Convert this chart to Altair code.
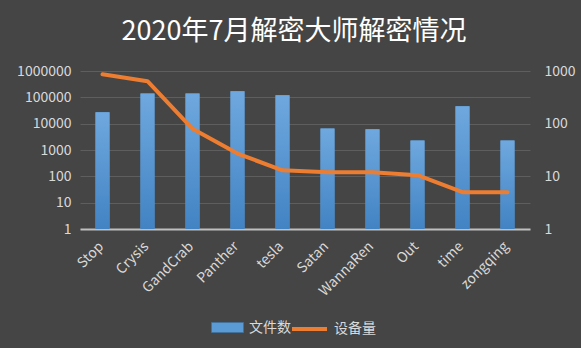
import altair as alt
import pandas as pd

names = ["Stop", "Crysis", "GandCrab", "Panther", "tesla", "Satan", "WannaRen", "Out", "time", "zongqing"]
files = [27000, 140000, 140000, 170000, 120000, 6600, 6100, 2300, 46000, 2300]
devices = [870, 640, 80, 27, 13, 12, 12, 10.5, 5, 5]
left_ticks = [1, 10, 100, 1000, 10000, 100000, 1000000]
right_ticks = [1, 10, 100, 1000]

df = pd.DataFrame({"name": names, "files": files, "devices": devices,
                   "k1": ["文件数"] * len(names), "k2": ["设备量"] * len(names)})

FONT = "Noto Sans CJK SC"
LABEL = "#d9d9d9"

x = alt.X("name:N", sort=names, title=None,
          scale=alt.Scale(paddingInner=0, paddingOuter=0),
          axis=alt.Axis(labelAngle=-45, labelFontSize=14, labelColor=LABEL, labelFont=FONT,
                        ticks=False, domainColor="#bfbfbf", domainWidth=2, labelPadding=10,
                        labelOffset=-6))

bar_solid = alt.Chart(df).mark_bar(size=14).encode(
    x=x,
    y=alt.Y("files:Q", scale=alt.Scale(type="log", domain=[1, 1000000], nice=False), title=None,
            axis=alt.Axis(values=left_ticks, format="d", orient="left", labelFontSize=14,
                          labelColor=LABEL, labelFont=FONT, domain=False, ticks=False,
                          gridColor="#5e5e5e", gridWidth=1, labelPadding=9)),
    y2=alt.datum(1),
    fill=alt.Fill("k1:N", scale=alt.Scale(domain=["文件数"], range=["#5B9BD5"]),
                  legend=alt.Legend(title=None, orient="none", legendX=131, legendY=240,
                                    direction="horizontal",
                                    symbolType="M-1,-0.3125H1V0.3125H-1Z", symbolSize=1024,
                                    symbolStrokeColor="#41719c", symbolStrokeWidth=0.8,
                                    labelFontSize=14, labelColor=LABEL, labelFont=FONT,
                                    labelOffset=5)),
)

bar_grad = alt.Chart(df).mark_bar(
    size=14,
    color=alt.LinearGradient(gradient="linear", x1=0, y1=0, x2=0, y2=1,
                             stops=[alt.GradientStop(color="#6fa8de", offset=0),
                                    alt.GradientStop(color="#4283c4", offset=1)])
).encode(
    x=x,
    y=alt.Y("files:Q", scale=alt.Scale(type="log", domain=[1, 1000000], nice=False), title=None,
            axis=None),
    y2=alt.datum(1),
)

line = alt.Chart(df).mark_line(strokeWidth=4, strokeCap="round", strokeJoin="round").encode(
    x=x,
    y=alt.Y("devices:Q", scale=alt.Scale(type="log", domain=[1, 1000], nice=False), title=None,
            axis=alt.Axis(values=right_ticks, format="d", orient="right", labelFontSize=14,
                          labelColor=LABEL, labelFont=FONT, domain=False, ticks=False,
                          grid=False, labelPadding=14)),
    stroke=alt.Stroke("k2:N", scale=alt.Scale(domain=["设备量"], range=["#ED7D31"]),
                      legend=alt.Legend(title=None, orient="none", legendX=210, legendY=238.5,
                                        direction="horizontal",
                                        symbolType="stroke", symbolSize=1225, symbolStrokeWidth=4,
                                        labelFontSize=14, labelColor=LABEL, labelFont=FONT,
                                        labelOffset=5)),
)

chart = alt.layer(bar_solid, bar_grad, line).resolve_scale(
    y="independent", fill="independent", stroke="independent"
).properties(
    width=450, height=158,
    padding={"left": 80, "top": 71, "right": 51, "bottom": 119},
    autosize=alt.AutoSizeParams(type="none"),
    background="#454545",
    title=alt.TitleParams("2020年7月解密大师解密情况", fontSize=27, color="#ffffff", font=FONT,
                          fontWeight="normal", anchor="middle", baseline="bottom", frame="group",
                          offset=27, dx=-11, dy=36),
).configure_view(stroke=None)

chart.save("out.html", embed_options={"renderer": "svg", "actions": False})
